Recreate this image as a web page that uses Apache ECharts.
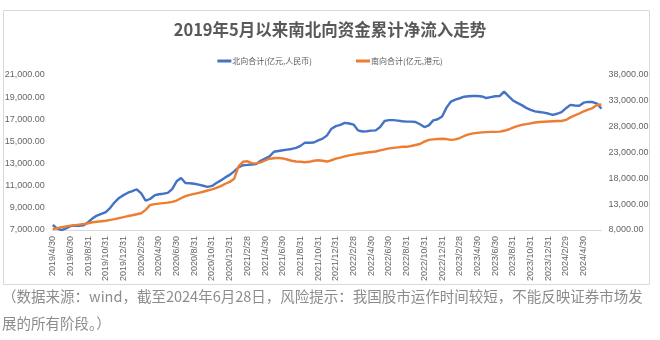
<!DOCTYPE html>
<html>
<head>
<meta charset="utf-8">
<script src="https://cdn.jsdelivr.net/npm/echarts@6/dist/echarts.min.js"></script>
<style>
  html, body { margin: 0; padding: 0; background: #fff; }
  #chart { width: 660px; height: 340px; }
</style>
</head>
<body>
<div id="chart"></div>
<script>
// Cumulative net inflows since May 2019, sampled at mid-month and month-end.
// Northbound in 亿元 (RMB), left axis; southbound in 亿元 (HKD), right axis.
var northbound = [
  7450, 7150, 6980, 7150, 7350, 7400, 7380, 7420, 7700, 8050,
  8300, 8450, 8620, 9000, 9500, 9900, 10150, 10370, 10520, 10680,
  10300, 9650, 9800, 10120, 10230, 10280, 10350, 10700, 11400, 11700,
  11250, 11220, 11180, 11100, 11000, 10900, 10980, 11250, 11480, 11750,
  11980, 12300, 12650, 12850, 12880, 12920, 12960, 13250, 13450, 13650,
  14070, 14140, 14200, 14260, 14320, 14420, 14600, 14890, 14880, 14900,
  15100, 15250, 15550, 16150, 16380, 16500, 16680, 16620, 16520, 16000,
  15900, 15920, 15980, 16000, 16300, 16850, 16920, 16920, 16880, 16820,
  16790, 16790, 16760, 16550, 16300, 16450, 16900, 17000, 17250, 18050,
  18600, 18780, 18900, 19040, 19080, 19100, 19100, 19060, 18920, 19000,
  19080, 19100, 19500, 19100, 18700, 18480, 18280, 18030, 17850, 17720,
  17660, 17600, 17520, 17400, 17500, 17650, 18000, 18300, 18250, 18220,
  18500, 18570, 18560, 18420, 17950
];
var southbound = [
  8150, 8350, 8550, 8700, 8850, 8950, 9050, 9150, 9300, 9500,
  9600, 9700, 9800, 9950, 10100, 10300, 10500, 10700, 10850, 11050,
  11250, 11900, 12800, 13000, 13100, 13200, 13300, 13450, 13700, 14150,
  14550, 14800, 15000, 15200, 15400, 15650, 15850, 16150, 16500, 16950,
  17300, 17900, 20300, 21200, 21300, 20950, 20900, 21100, 21450, 21800,
  21900, 21950, 21850, 21650, 21400, 21250, 21200, 21100, 21200, 21400,
  21500, 21400, 21250, 21500, 21800, 22000, 22250, 22450, 22600, 22750,
  22850, 23000, 23100, 23200, 23400, 23600, 23800, 23900, 24000, 24100,
  24100, 24250, 24450, 24650, 25100, 25450, 25550, 25600, 25650, 25600,
  25450, 25550, 25800, 26200, 26500, 26700, 26800, 26900, 26950, 27000,
  27000, 27050, 27200, 27450, 27800, 28100, 28350, 28500, 28650, 28800,
  28900, 28950, 29000, 29050, 29100, 29100, 29300, 29800, 30200, 30550,
  30950, 31300, 31600, 32200, 32300
];
var seriesNames = ['北向合计(亿元,人民币)', '南向合计(亿元,港元)'];
var leftTicks = { min: 7000, max: 21000, step: 2000 };
var rightTicks = { min: 8000, max: 38000, step: 5000 };

// Sample dates: 2019/4/30, then the 15th and last day of each month; the last one is 2024/6/28.
var dates = ['2019/4/30'];
for (var y = 2019, m = 5; y < 2024 || (y === 2024 && m <= 6); ) {
  dates.push(y + '/' + m + '/15');
  var last = (y === 2024 && m === 6) ? 28 : new Date(y, m, 0).getDate();
  dates.push(y + '/' + m + '/' + last);
  m++; if (m > 12) { m = 1; y++; }
}

function fmt(v) {
  return v.toLocaleString('en-US', { minimumFractionDigits: 2, maximumFractionDigits: 2 });
}

var chart = echarts.init(document.getElementById('chart'), null, { renderer: 'canvas' });
var axisFont = { fontFamily: 'Liberation Sans', fontSize: 9, color: '#666666' };

chart.setOption({
  backgroundColor: '#ffffff',
  animation: false,
  title: {
    text: '2019年5月以来南北向资金累计净流入走势',
    left: 'center',
    top: 16,
    textStyle: { fontFamily: 'Noto Sans CJK SC', fontWeight: 'bold', fontSize: 16.5, color: '#595959' }
  },
  legend: {
    top: 52,
    left: 'center',
    itemGap: 44,
    itemWidth: 14,
    itemHeight: 3,
    icon: 'rect',
    textStyle: { fontFamily: 'Noto Sans CJK SC', fontSize: 8, color: '#595959', padding: [0, 0, 0, -4] },
    data: seriesNames
  },
  grid: { left: 52.7, right: 58.6, top: 75, bottom: 110, containLabel: false },
  xAxis: {
    type: 'category',
    boundaryGap: false,
    data: dates,
    axisLine: { show: true, lineStyle: { color: '#d9d9d9', width: 1 } },
    axisTick: { show: false },
    axisLabel: Object.assign({
      rotate: 90,
      margin: 6,
      interval: function (idx) { return idx % 4 === 0 && idx <= 120; }
    }, axisFont),
    splitLine: { show: false }
  },
  yAxis: [
    {
      type: 'value',
      min: leftTicks.min, max: leftTicks.max, interval: leftTicks.step,
      axisLine: { show: false }, axisTick: { show: false },
      splitLine: { show: false },
      axisLabel: Object.assign({ margin: 8, formatter: fmt }, axisFont)
    },
    {
      type: 'value',
      position: 'right',
      min: rightTicks.min, max: rightTicks.max, interval: rightTicks.step,
      axisLine: { show: false }, axisTick: { show: false },
      splitLine: { show: false },
      axisLabel: Object.assign({ margin: 7, formatter: fmt }, axisFont)
    }
  ],
  series: [
    {
      name: seriesNames[0], type: 'line', yAxisIndex: 0, data: northbound,
      showSymbol: false, symbol: 'none',
      lineStyle: { color: '#4472C4', width: 2.4 }, itemStyle: { color: '#4472C4' }
    },
    {
      name: seriesNames[1], type: 'line', yAxisIndex: 1, data: southbound,
      showSymbol: false, symbol: 'none',
      lineStyle: { color: '#ED7D31', width: 2.4 }, itemStyle: { color: '#ED7D31' }
    }
  ],
  graphic: [
    {
      type: 'rect', silent: true, z: -1,
      shape: { x: 3.5, y: 10.5, width: 646, height: 274 },
      style: { fill: 'none', stroke: '#d9d9d9', lineWidth: 1 }
    },
    {
      type: 'text', left: 2, top: 289,
      style: {
        text: '（数据来源：wind，截至2024年6月28日，风险提示：我国股市运作时间较短，不能反映证券市场发',
        font: '14.5px "Noto Sans CJK SC"', fill: '#8c8c8c'
      }
    },
    {
      type: 'text', left: 2, top: 316,
      style: {
        text: '展的所有阶段。）',
        font: '14.5px "Noto Sans CJK SC"', fill: '#8c8c8c'
      }
    }
  ]
});
</script>
</body>
</html>
